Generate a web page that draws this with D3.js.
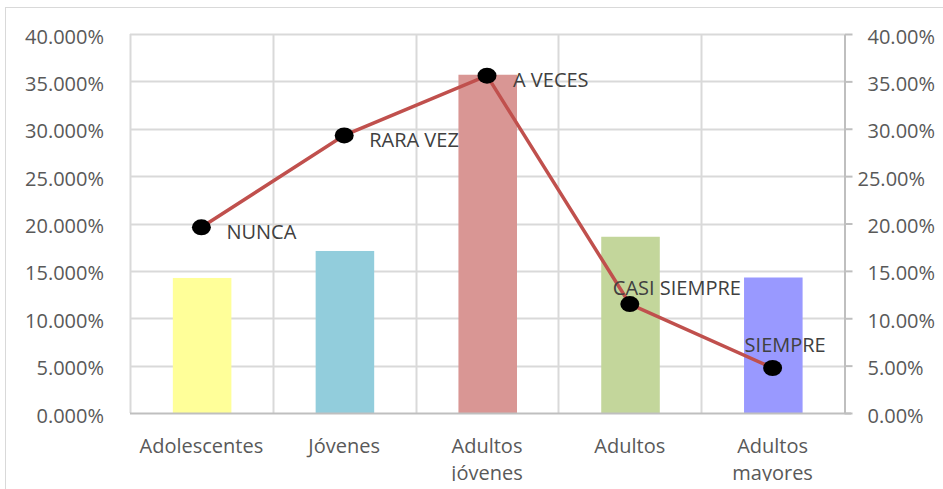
<!DOCTYPE html>
<html>
<head>
<meta charset="utf-8">
<script src="https://cdn.jsdelivr.net/npm/d3@7"></script>
<style>
  body { margin: 0; background: #fff; }
  svg text { font-family: "Open Sans", "Liberation Sans", sans-serif; }
</style>
</head>
<body>
<svg id="chart"></svg>
<script>
// data
const categories = ["Adolescentes", "Jóvenes", "Adultos jóvenes", "Adultos", "Adultos mayores"];
const barValues = [0.1425, 0.171, 0.357, 0.186, 0.143];
const barColors = ["#FFFF99", "#92CDDC", "#D99694", "#C3D69B", "#9999FF"];
const lineLabels = ["NUNCA", "RARA VEZ", "A VECES", "CASI SIEMPRE", "SIEMPRE"];
const lineValues = [0.196, 0.293, 0.356, 0.115, 0.0475];
const leftTicks = [0, 0.05, 0.10, 0.15, 0.20, 0.25, 0.30, 0.35, 0.40];
const rightTicks = [0, 0.05, 0.10, 0.15, 0.20, 0.25, 0.30, 0.35, 0.40];

// label placement (like excel, some are right of the point, some above)
const labelOffsets = [[25, 12], [25, 12], [26, 11], [-17, -9], [-28, -16]];

const width = 943, height = 489;
const margin = {top: 34, left: 130, right: 99, bottom: 76};

const svg = d3.select("#chart")
  .attr("width", width)
  .attr("height", height);

// chart area border
svg.append("rect")
  .attr("x", 5.5).attr("y", 7.5)
  .attr("width", 960).attr("height", 520)
  .attr("fill", "#fff")
  .attr("stroke", "#d9d9d9");

const x = d3.scaleBand()
  .domain(categories)
  .range([margin.left, width - margin.right]);

const y = d3.scaleLinear()
  .domain([0, 0.4])
  .range([height - margin.bottom, margin.top]);

const y2 = d3.scaleLinear()
  .domain([0, 0.4])
  .range([height - margin.bottom, margin.top]);

const bw = x.bandwidth();

// horizontal gridlines
svg.append("g")
  .selectAll("line")
  .data(leftTicks.slice(1))
  .join("line")
  .attr("x1", margin.left).attr("x2", width - margin.right)
  .attr("y1", d => Math.round(y(d)) + 0.5)
  .attr("y2", d => Math.round(y(d)) + 0.5)
  .attr("stroke", "#d9d9d9")
  .attr("stroke-width", 2);

// vertical gridlines at category borders
svg.append("g")
  .selectAll("line")
  .data(categories)
  .join("line")
  .attr("x1", d => Math.round(x(d)) + 0.5)
  .attr("x2", d => Math.round(x(d)) + 0.5)
  .attr("y1", y(0.4)).attr("y2", y(0))
  .attr("stroke", "#d9d9d9")
  .attr("stroke-width", 2);

// bars
svg.append("g")
  .selectAll("rect")
  .data(categories)
  .join("rect")
  .attr("x", d => x(d) + bw * 0.3)
  .attr("width", bw * 0.41)
  .attr("y", (d, i) => y(barValues[i]))
  .attr("height", (d, i) => y(0) - y(barValues[i]))
  .attr("fill", (d, i) => barColors[i]);

// bottom axis line
svg.append("line")
  .attr("x1", margin.left).attr("x2", width - margin.right + 7)
  .attr("y1", y(0) + 0.5).attr("y2", y(0) + 0.5)
  .attr("stroke", "#bfbfbf")
  .attr("stroke-width", 2);

// left axis labels
const leftAxis = d3.axisLeft(y)
  .tickValues(leftTicks)
  .tickFormat(d3.format(".3%"))
  .tickSize(0)
  .tickPadding(26);

const gl = svg.append("g")
  .attr("transform", `translate(${margin.left},0)`)
  .call(leftAxis);
gl.select(".domain").remove();
gl.selectAll("text")
  .attr("fill", "#595959")
  .attr("font-size", 20)
  .attr("dy", "0.45em");

// right axis
const rightAxis = d3.axisRight(y2)
  .tickValues(rightTicks)
  .tickFormat(d3.format(".2%"))
  .tickSize(8)
  .tickSizeOuter(0)
  .tickPadding(15);

const gr = svg.append("g")
  .attr("transform", `translate(${width - margin.right + 0.5},0)`)
  .call(rightAxis);
gr.select(".domain").attr("stroke", "#bfbfbf").attr("stroke-width", 2);
gr.selectAll(".tick line").attr("stroke", "#bfbfbf").attr("stroke-width", 2);
gr.selectAll("text")
  .attr("fill", "#595959")
  .attr("font-size", 20)
  .attr("dy", "0.45em")
  .attr("dx", d => d === 0.25 ? -10 : 0); // odd shift seen in the original

// category labels (clipped at the bottom like the original)
svg.append("clipPath").attr("id", "clipBottom")
  .append("rect").attr("x", 0).attr("y", 0).attr("width", width).attr("height", 481);

const cat = svg.append("g")
  .attr("clip-path", "url(#clipBottom)")
  .selectAll("text")
  .data(categories)
  .join("text")
  .attr("x", d => x(d) + bw / 2)
  .attr("y", y(0) + 40)
  .attr("text-anchor", "middle")
  .attr("fill", "#595959")
  .attr("font-size", 20);

cat.each(function(d) {
  const words = d.split(" ");
  const t = d3.select(this);
  words.forEach((w, i) => {
    t.append("tspan")
      .attr("x", x(d) + bw / 2)
      .attr("dy", i === 0 ? 0 : 27)
      .text(w);
  });
});

// line series
const line = d3.line()
  .x((d, i) => x(categories[i]) + bw / 2)
  .y(d => y2(d));

svg.append("path")
  .datum(lineValues)
  .attr("d", line)
  .attr("fill", "none")
  .attr("stroke", "#C0504D")
  .attr("stroke-width", 3.5);

svg.append("g")
  .selectAll("ellipse")
  .data(lineValues)
  .join("ellipse")
  .attr("cx", (d, i) => x(categories[i]) + bw / 2)
  .attr("cy", d => y2(d))
  .attr("rx", 9.5)
  .attr("ry", 8)
  .attr("fill", "#000");

svg.append("g")
  .selectAll("text")
  .data(lineValues)
  .join("text")
  .attr("x", (d, i) => x(categories[i]) + bw / 2 + labelOffsets[i][0])
  .attr("y", (d, i) => y2(d) + labelOffsets[i][1])
  .attr("fill", "#404040")
  .attr("font-size", 20)
  .text((d, i) => lineLabels[i]);
</script>
</body>
</html>
